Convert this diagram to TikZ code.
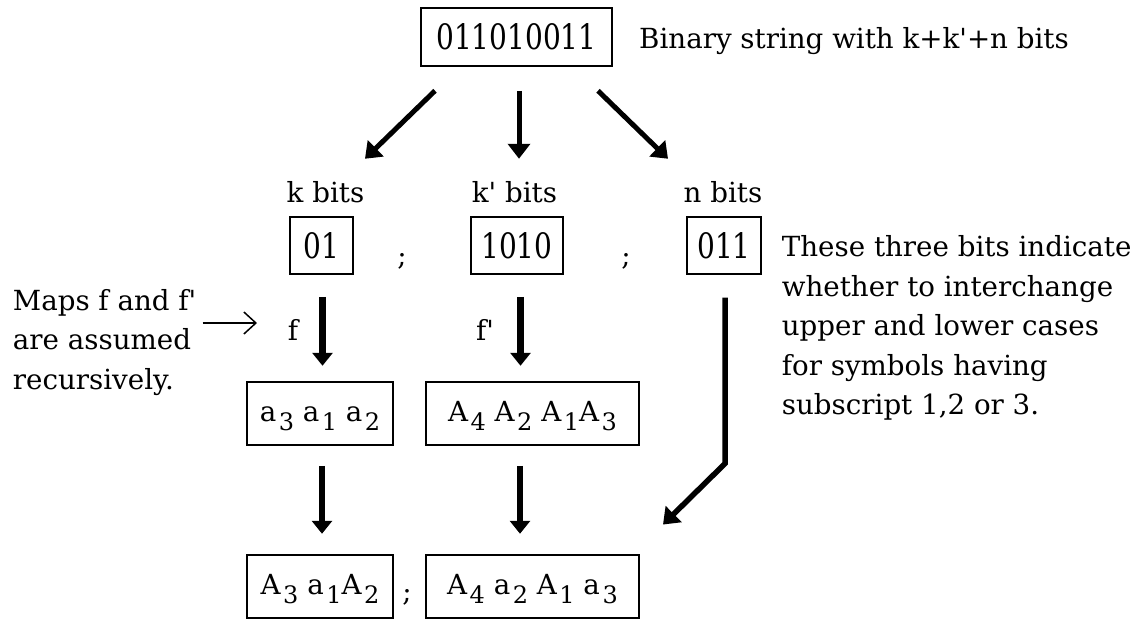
\documentclass[tikz,border=0pt]{standalone}
\usepackage{fontspec}
\newfontfamily\diagfont{DejaVu Serif}
\newfontfamily\bitfont[FakeStretch=0.8]{DejaVu Serif}
\usetikzlibrary{arrows.meta}
\newcommand\subidx[1]{\kern2.5pt\raisebox{-9pt}{\fontsize{24}{24}\selectfont #1}}
\begin{document}
\begin{tikzpicture}[x=1pt,y=1pt,yscale=-1,xscale=1,
	every node/.style={font=\diagfont\fontsize{27.7}{39.5}\selectfont, inner sep=0pt},
	bitbox/.style={draw, line width=1.5pt, font=\bitfont\fontsize{35}{35}\selectfont},
	symbox/.style={draw, line width=1.5pt, minimum height=63pt, execute at begin node=\strut},
	toparrow/.style={line width=5pt, -{Triangle[length=15pt,width=22pt]}},
	downarrow/.style={line width=6.5pt, -{Triangle[length=13pt,width=20pt]}},
	longarrow/.style={line width=5.5pt, -{Triangle[length=15pt,width=22pt]}},
	maparrow/.style={line width=1.5pt, -{Straight Barb[length=12pt,width=22pt]}}]
			\useasboundingbox (0,0) rectangle (1146,619);

			% whole string
			\node[bitbox, minimum width=191pt, minimum height=58pt] (whole) at (516.5,37) {011010011};
			\node[anchor=base west] (wholenote) at (639,48) {Binary string with k+k'+n bits};

			% split into three parts
			\node[anchor=base] (kl) at (325.5,202) {k bits};
			\node[anchor=base] (kpl) at (514.5,202) {k' bits};
			\node[anchor=base] (nl) at (723,202) {n bits};
			\node[bitbox, minimum width=63pt, minimum height=57pt] (kbox) at (321.5,245.5) {01};
			\node[bitbox, minimum width=92pt, minimum height=57pt] (kpbox) at (517,245.5) {1010};
			\node[bitbox, minimum width=74pt, minimum height=57pt] (nbox) at (724,245.3) {011};
			\node[anchor=base] (semi1) at (402,265) {;};
			\node[anchor=base] (semi2) at (626,265) {;};

			% side notes
			\node[anchor=north west, align=left] (ntext) at (781.7,235.6) {These three bits indicate\\whether to interchange\\upper and lower cases\\for symbols having\\subscript 1,2 or 3.};
			\node[anchor=north west, align=left] (maps) at (12.7,289) {Maps f and f'\\are assumed\\recursively.};
			\node[anchor=base] (fl) at (293,340) {f};
			\node[anchor=base] (fpl) at (485,340) {f'};

			% images under f and f'
			\node[symbox, minimum width=146pt] (abox) at (320,413.5) {a\subidx{3} a\subidx{1} a\subidx{2}};
			\node[symbox, minimum width=213pt] (Abox) at (532.5,413.5) {A\subidx{4} A\subidx{2} A\subidx{1}A\subidx{3}};

			% result
			\node[symbox, minimum width=146pt] (rbox) at (320,586.5) {A\subidx{3} a\subidx{1}A\subidx{2}};
			\node[anchor=base] (semi3) at (407,601) {;};
			\node[symbox, minimum width=213pt] (Rbox) at (532.5,586.5) {A\subidx{4} a\subidx{2} A\subidx{1} a\subidx{3}};

			% arrows
			\draw[toparrow] (whole.south) ++(-81.5,24) -- ++(-70,68);
			\draw[toparrow] (whole.south) ++(2.5,24) -- ++(0,68);
			\draw[toparrow] (whole.south) ++(81.5,24) -- ++(70,68);
			\draw[downarrow] (kbox.south) ++(1,22) -- ++(0,69);
			\draw[downarrow] (kpbox.south) ++(3.5,22) -- ++(0,69);
			\draw[downarrow] (abox.south) ++(2,20) -- ++(0,68);
			\draw[downarrow] (Abox.south) ++(-12.5,20) -- ++(0,68);
			\draw[longarrow] (nbox.south) ++(1,23) -- ++(0,166) -- ++(-62,61);
			\coordinate (mapsto) at (257,323);
			\draw[maparrow] (maps.east |- mapsto) ++(6,0) -- (mapsto);

		\end{tikzpicture}
\end{document}
